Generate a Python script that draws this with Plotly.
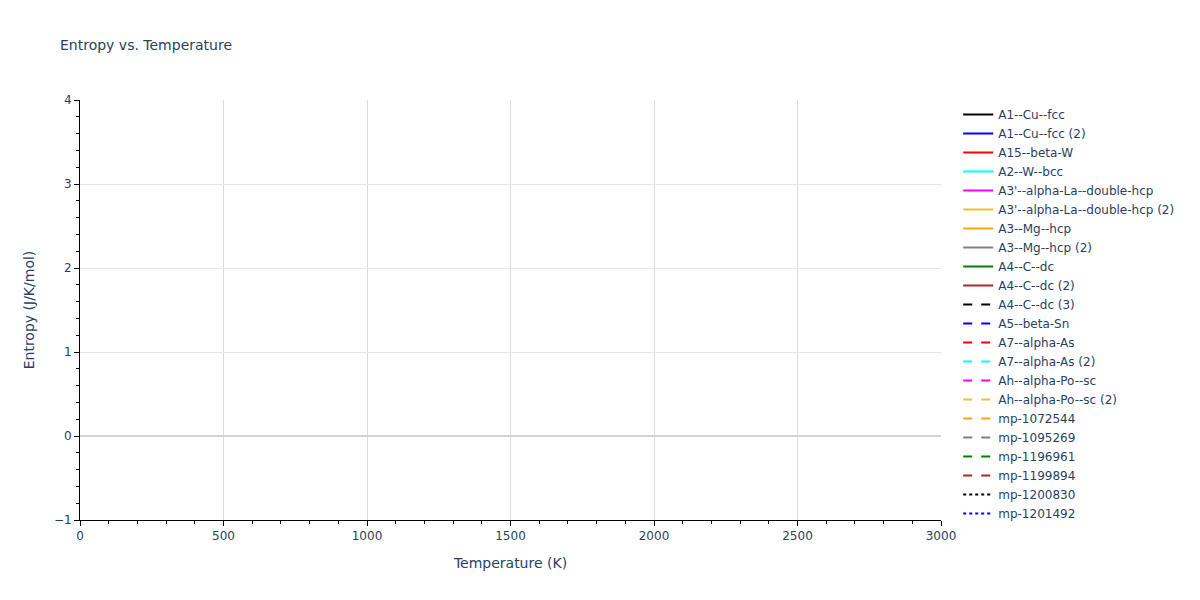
import plotly.graph_objects as go

# phases shown in the legend (their curves have no drawable points)
names = [
    "A1--Cu--fcc", "A1--Cu--fcc (2)", "A15--beta-W", "A2--W--bcc",
    "A3'--alpha-La--double-hcp", "A3'--alpha-La--double-hcp (2)",
    "A3--Mg--hcp", "A3--Mg--hcp (2)", "A4--C--dc", "A4--C--dc (2)",
    "A4--C--dc (3)", "A5--beta-Sn", "A7--alpha-As", "A7--alpha-As (2)",
    "Ah--alpha-Po--sc", "Ah--alpha-Po--sc (2)", "mp-1072544", "mp-1095269",
    "mp-1196961", "mp-1199894", "mp-1200830", "mp-1201492",
]
temperature = [None]
entropy = [None]

palette = ["black", "blue", "red", "cyan", "magenta", "#ecc232",
           "orange", "gray", "green", "brown"]
dashes = ["solid", "dash", "dot"]

fig = go.Figure()
for i, name in enumerate(names):
    fig.add_trace(go.Scatter(
        x=temperature,
        y=entropy,
        mode="lines",
        name=name,
        showlegend=True,
        line=dict(color=palette[i % len(palette)], dash=dashes[i // len(palette)], width=2),
    ))

fig.update_layout(
    title=dict(text="Entropy vs. Temperature", font=dict(size=14), x=0.05),
    width=1200,
    height=600,
    margin=dict(l=80, r=259, t=100, b=80),
    template="plotly_white",
    plot_bgcolor="white",
    font=dict(family="DejaVu Sans, Verdana, sans-serif", size=12),
    showlegend=True,
    legend=dict(maxheight=600),
)
fig.update_xaxes(
    title_text="Temperature (K)",
    range=[0, 3000],
    showline=True, linecolor="black", linewidth=1,
    ticks="outside", ticklen=5, tickcolor="black",
    minor=dict(ticks="outside", ticklen=3, tickcolor="black", dtick=100),
    gridcolor="#dcdcdc",
    zeroline=False,
)
fig.update_yaxes(
    title_text="Entropy (J/K/mol)",
    range=[-1, 4],
    showline=True, linecolor="black", linewidth=1,
    ticks="outside", ticklen=5, tickcolor="black",
    minor=dict(ticks="outside", ticklen=3, tickcolor="black", dtick=0.2),
    gridcolor="#e6e6e6",
    zeroline=True, zerolinecolor="#d3d3d3", zerolinewidth=2,
)

fig.write_html("out.html", config={"displayModeBar": False},
               post_script="document.body.style.margin='0';")
